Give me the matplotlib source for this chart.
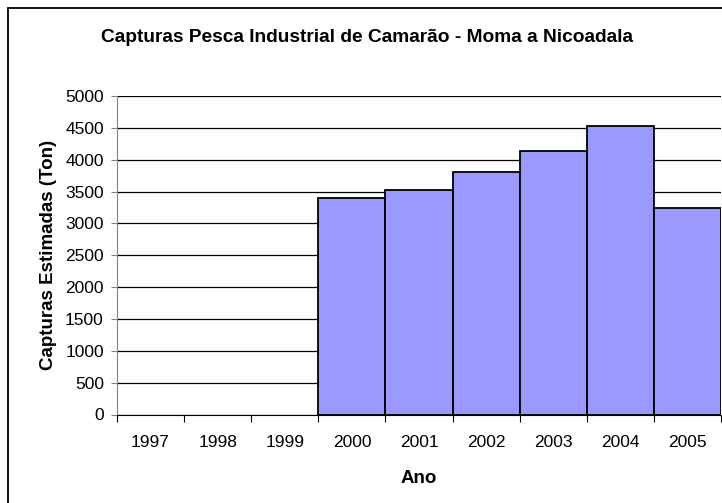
import matplotlib.pyplot as plt
from matplotlib.patches import Rectangle
import numpy as np

years = ['1997', '1998', '1999', '2000', '2001', '2002', '2003', '2004', '2005']
catches = [np.nan, np.nan, np.nan, 3400, 3530, 3810, 4140, 4530, 3240]
y_ticks = list(range(0, 5001, 500))

plt.rcParams['font.family'] = ['Liberation Sans', 'DejaVu Sans']

W, H = 722, 503
fig = plt.figure(figsize=(W / 100, H / 100), dpi=100)
ax = fig.add_axes([117 / W, 1 - 414.5 / H, 604 / W, 318.5 / H])

# outer chart border
fig.patches.append(Rectangle((8 / W, -0.1), 1.2, 1 - 8 / H + 0.1,
                             transform=fig.transFigure, fill=False,
                             edgecolor='black', linewidth=1.3))

x = np.arange(len(years))
ax.bar(x, catches, width=1.0, color='#9999FF', edgecolor='black',
       linewidth=1.3, zorder=3)

ax.set_xlim(-0.5, len(years) - 0.5)
ax.set_ylim(0, 5000)
ax.set_yticks(y_ticks)
ax.set_yticklabels([str(v) for v in y_ticks], fontsize=12.5)
ax.yaxis.grid(True, color='black', linewidth=0.9, zorder=0)

# year labels centred, tick marks between categories
ax.set_xticks(np.arange(len(years) + 1) - 0.5)
ax.set_xticklabels([])
ax.set_xticks(x, minor=True)
ax.set_xticklabels(years, minor=True, fontsize=12.5)
ax.tick_params(axis='x', which='minor', length=0, pad=15)
ax.tick_params(axis='x', which='major', length=5, color='black')
ax.tick_params(axis='y', length=4, color='#808080', pad=5.5)

for side in ['top', 'right']:
    ax.spines[side].set_visible(False)
ax.spines['left'].set_color('#808080')
ax.spines['bottom'].set_color('black')

fig.text(367 / W, 1 - 38 / H,
         'Capturas Pesca Industrial de Camarão - Moma a Nicoadala',
         fontsize=13.8, fontweight='bold', ha='center', va='center')
ax.set_xlabel('Ano', fontsize=13.5, fontweight='bold', labelpad=14)
ax.set_ylabel('Capturas Estimadas (Ton)', fontsize=13.5, fontweight='bold',
              labelpad=6)

plt.savefig('out.png', dpi=100)
plt.close()
